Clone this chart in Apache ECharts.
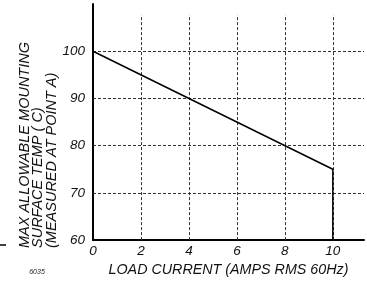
<!DOCTYPE html>
<html>
<head>
<meta charset="utf-8">
<script src="https://cdn.jsdelivr.net/npm/echarts@6/dist/echarts.min.js"></script>
<style>
html,body{margin:0;padding:0;background:#fff;}
#c{width:367px;height:282px;}
</style>
</head>
<body>
<div id="c"></div>
<script>
// Data
var curveX = [0, 10, 10];
var curveY = [100, 75, 60];
var xTicks = [0, 2, 4, 6, 8, 10];
var yTicks = [60, 70, 80, 90, 100];
var xGridLines = [2, 4, 6, 8, 10];
var yGridLines = [70, 80, 90, 100];
var xTitle = 'LOAD CURRENT (AMPS RMS 60Hz)';
var yTitleLines = ['MAX ALLOWABLE MOUNTING', 'SURFACE TEMP ( C)', '(MEASURED AT POINT A)'];
var figCode = '6035';

var X_MIN = 0, X_MAX = 11.3, Y_MIN = 60, Y_MAX = 110, V_GRID_TOP = 107.7;

var gridStyle = { color: '#333', width: 1, type: [3, 2] };
var font = "'Liberation Sans', Arial, sans-serif";

var markData = [];
yGridLines.forEach(function (v) { markData.push({ yAxis: v }); });
xGridLines.forEach(function (v) {
  markData.push([{ coord: [v, Y_MIN] }, { coord: [v, V_GRID_TOP] }]);
});

var chart = echarts.init(document.getElementById('c'), null, { renderer: 'canvas' });
chart.setOption({
  animation: false,
  backgroundColor: '#fff',
  grid: { left: 93, right: 0, top: 4, bottom: 36.5, containLabel: false },
  xAxis: {
    type: 'value', min: X_MIN, max: X_MAX, interval: 2,
    axisLine: { show: true, onZero: false, lineStyle: { color: '#000', width: 2 } },
    axisTick: { show: false },
    splitLine: { show: false },
    axisLabel: {
      margin: 4, color: '#111', fontSize: 13.5, fontStyle: 'italic', fontFamily: font,
      formatter: function (v) { return xTicks.indexOf(v) >= 0 ? String(v) : ''; }
    },
    name: xTitle, nameLocation: 'middle', nameGap: 15,
    nameTextStyle: { color: '#111', fontSize: 14.3, fontStyle: 'italic', fontFamily: font }
  },
  yAxis: {
    type: 'value', min: Y_MIN, max: Y_MAX, interval: 10,
    axisLine: { show: true, onZero: false, lineStyle: { color: '#000', width: 2 } },
    axisTick: { show: false },
    splitLine: { show: false },
    axisLabel: {
      margin: 8, color: '#111', fontSize: 13.5, fontStyle: 'italic', fontFamily: font,
      formatter: function (v) { return yTicks.indexOf(v) >= 0 ? String(v) : ''; }
    }
  },
  graphic: [
    {
      type: 'text', x: 18.5, y: 248, rotation: Math.PI / 2,
      style: {
        text: yTitleLines.join('\n'), fill: '#111', fontSize: 14.5, fontStyle: 'italic',
        fontFamily: font, lineHeight: 13.2, align: 'left', verticalAlign: 'top'
      }
    },
    {
      type: 'text', x: 37, y: 272,
      style: { text: figCode, fill: '#222', fontSize: 7, fontStyle: 'italic', fontFamily: font, align: 'center', verticalAlign: 'middle' }
    },
    {
      type: 'line', shape: { x1: 0, y1: 245, x2: 6, y2: 245 },
      style: { stroke: '#000', lineWidth: 1.5 }
    }
  ],
  series: [{
    type: 'line',
    data: curveX.map(function (x, i) { return [x, curveY[i]]; }),
    symbol: 'none',
    lineStyle: { color: '#000', width: 1.5 },
    z: 5,
    markLine: {
      silent: true, symbol: 'none', label: { show: false },
      lineStyle: gridStyle, emphasis: { disabled: true },
      data: markData, z: 1
    }
  }]
});
</script>
</body>
</html>
